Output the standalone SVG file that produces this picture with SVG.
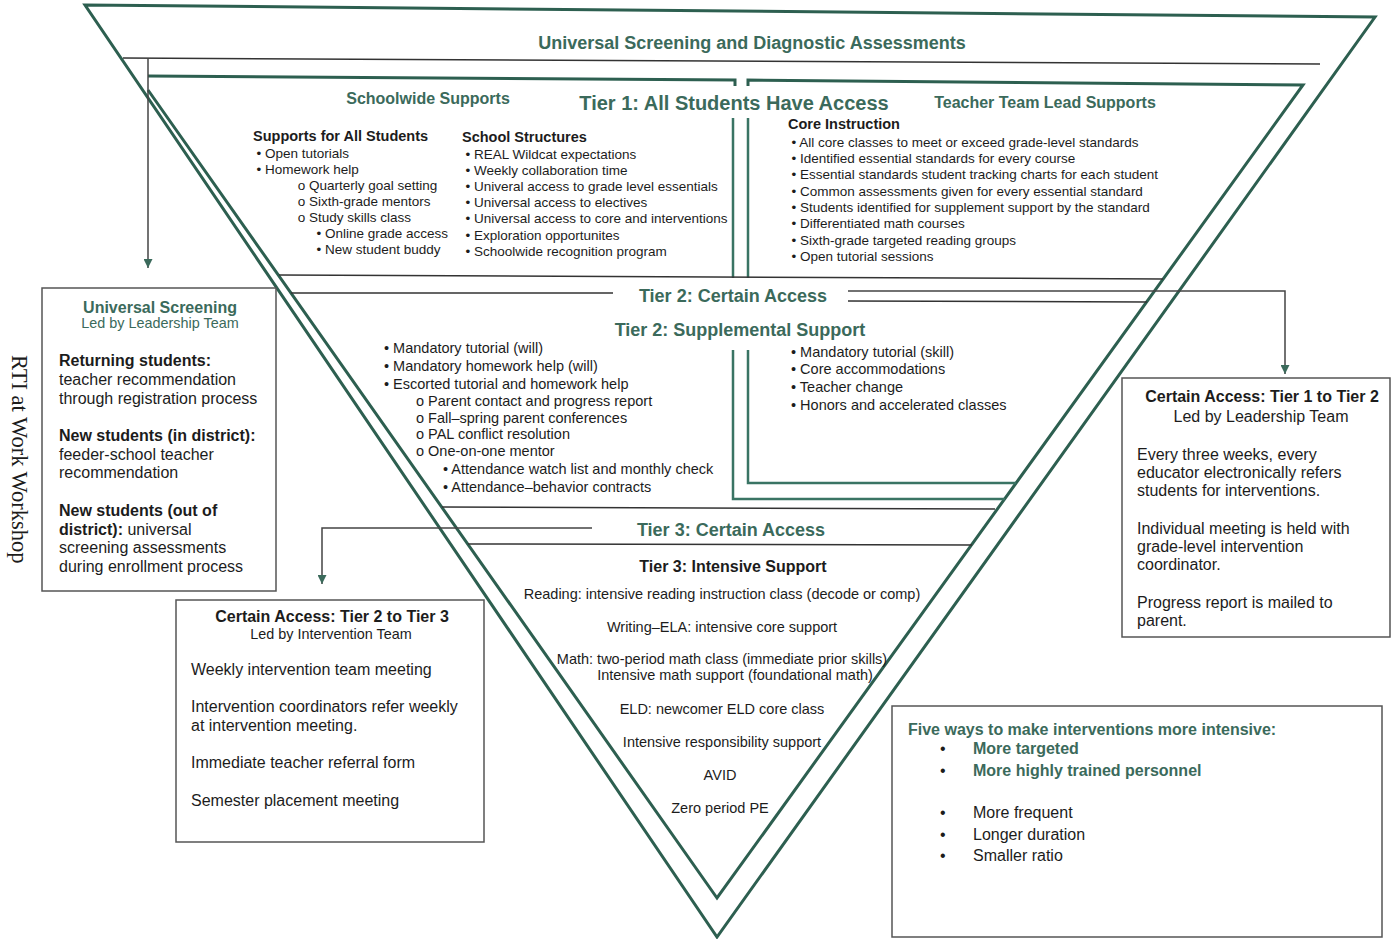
<svg xmlns="http://www.w3.org/2000/svg" width="1393" height="939" viewBox="0 0 1393 939">
<defs>
<style>
text{font-family:"Liberation Sans",Arial,Helvetica,sans-serif;fill:#1c1c1c}
.h{font-weight:bold;fill:#3b6a5b}
.g{fill:#3b6a5b}
.b{font-weight:bold}
.f13{font-size:13.5px}
.f14{font-size:14.5px}
.f16{font-size:16px}
.mid{text-anchor:middle}
.frame{fill:none;stroke:#2d5f50;stroke-width:3;stroke-linejoin:miter}
.gl{fill:none;stroke:#3a7464;stroke-width:2.5}
.tl{fill:none;stroke:#333;stroke-width:1.5}
.box{fill:#fff;stroke:#555;stroke-width:1.5}
.con{fill:none;stroke:#444;stroke-width:1.5}
</style>
<marker id="ah" viewBox="0 0 10 10" refX="10" refY="5" markerUnits="userSpaceOnUse" markerWidth="11" markerHeight="9" orient="auto">
<path d="M0,0 L10,5 L0,10 z" fill="#3b6a5b"/>
</marker>
</defs>
<rect width="1393" height="939" fill="#fff"/>

<g id="frame">
<path class="frame" d="M85,5 L1375,17 L717,937 Z"/>
<path class="frame" d="M735,86 L735,80 L148,76 M148,90 L717,898 L1303,85 L748,80 L748,86"/>
<path class="tl" d="M123,58 L1320,64"/>
<text class="h mid" x="752" y="49" font-size="18px">Universal Screening and Diagnostic Assessments</text>
</g>

<g id="tier1">
<path class="gl" d="M733,118 L733,278 M748,118 L748,278"/>
<path class="tl" d="M279,275 L1163,279"/>
<text class="h mid" x="428" y="104" font-size="16px">Schoolwide Supports</text>
<text class="h mid" x="734" y="110" font-size="20px">Tier 1: All Students Have Access</text>
<text class="h mid" x="1045" y="108" font-size="16px">Teacher Team Lead Supports</text>
<text class="b f14" x="253" y="141">Supports for All Students</text>
<text class="f13" x="256.5" y="158">• Open tutorials</text>
<text class="f13" x="256.5" y="174">• Homework help</text>
<text class="f13" x="297.7" y="190">o Quarterly goal setting</text>
<text class="f13" x="297.7" y="206">o Sixth-grade mentors</text>
<text class="f13" x="297.7" y="222">o Study skills class</text>
<text class="f13" x="316.5" y="238">• Online grade access</text>
<text class="f13" x="316.5" y="254">• New student buddy</text>
<text class="b f14" x="462" y="142">School Structures</text>
<text class="f13" x="465.5" y="159">• REAL Wildcat expectations</text>
<text class="f13" x="465.5" y="175">• Weekly collaboration time</text>
<text class="f13" x="465.5" y="191">• Univeral access to grade level essentials</text>
<text class="f13" x="465.5" y="207">• Universal access to electives</text>
<text class="f13" x="465.5" y="223">• Universal access to core and interventions</text>
<text class="f13" x="465.5" y="240">• Exploration opportunites</text>
<text class="f13" x="465.5" y="256">• Schoolwide recognition program</text>
<text class="b f14" x="788" y="129">Core Instruction</text>
<text class="f13" x="791.5" y="147">• All core classes to meet or exceed grade-level standards</text>
<text class="f13" x="791.5" y="163">• Identified essential standards for every course</text>
<text class="f13" x="791.5" y="179">• Essential standards student tracking charts for each student</text>
<text class="f13" x="791.5" y="196">• Common assessments given for every essential standard</text>
<text class="f13" x="791.5" y="212">• Students identified for supplement support by the standard</text>
<text class="f13" x="791.5" y="228">• Differentiated math courses</text>
<text class="f13" x="791.5" y="245">• Sixth-grade targeted reading groups</text>
<text class="f13" x="791.5" y="261">• Open tutorial sessions</text>
</g>

<g id="tier2">
<path class="tl" d="M291,293 L613,293 M848,301 L1147,302"/>
<path class="gl" d="M733,350 L733,499 L1005,499 M748,350 L748,483 L1016,483"/>
<path class="tl" d="M442,507 L995,509"/>
<text class="h mid" x="733" y="302" font-size="18px">Tier 2: Certain Access</text>
<text class="h mid" x="740" y="336" font-size="18px">Tier 2: Supplemental Support</text>
<text class="f14" x="384" y="353">• Mandatory tutorial (will)</text>
<text class="f14" x="384" y="371">• Mandatory homework help (will)</text>
<text class="f14" x="384" y="389">• Escorted tutorial and homework help</text>
<text class="f14" x="416" y="406">o Parent contact and progress report</text>
<text class="f14" x="416" y="423">o Fall–spring parent conferences</text>
<text class="f14" x="416" y="439">o PAL conflict resolution</text>
<text class="f14" x="416" y="456">o One-on-one mentor</text>
<text class="f14" x="443" y="474">• Attendance watch list and monthly check</text>
<text class="f14" x="443" y="492">• Attendance–behavior contracts</text>
<text class="f14" x="791" y="357">• Mandatory tutorial (skill)</text>
<text class="f14" x="791" y="374">• Core accommodations</text>
<text class="f14" x="791" y="392">• Teacher change</text>
<text class="f14" x="791" y="410">• Honors and accelerated classes</text>
</g>

<g id="tier3">
<path class="tl" d="M468,544 L972,545"/>
<text class="h mid" x="731" y="536" font-size="18px">Tier 3: Certain Access</text>
<text class="b mid" x="733" y="572" font-size="16px">Tier 3: Intensive Support</text>
<text class="f14 mid" x="722" y="599">Reading: intensive reading instruction class (decode or comp)</text>
<text class="f14 mid" x="722" y="632">Writing–ELA: intensive core support</text>
<text class="f14 mid" x="722" y="664">Math: two-period math class (immediate prior skills)</text>
<text class="f14 mid" x="735" y="680">Intensive math support (foundational math)</text>
<text class="f14 mid" x="722" y="714">ELD: newcomer ELD core class</text>
<text class="f14 mid" x="722" y="747">Intensive responsibility support</text>
<text class="f14 mid" x="720" y="780">AVID</text>
<text class="f14 mid" x="720" y="813">Zero period PE</text>
</g>

<g id="side-label">
<text transform="translate(12,355) rotate(90)" style="font-family:'Liberation Serif','Times New Roman',serif" font-size="22.5px">RTI at Work Workshop</text>
</g>

<g id="box-universal">
<rect class="box" x="42" y="288" width="234" height="303"/>
<text class="h mid f16" x="160" y="313">Universal Screening</text>
<text class="g mid" x="160" y="328" font-size="14.4px">Led by Leadership Team</text>
<text class="f16 b" x="59" y="366">Returning students:</text>
<text class="f16" x="59" y="385">teacher recommendation</text>
<text class="f16" x="59" y="404">through registration process</text>
<text class="f16 b" x="59" y="441">New students (in district):</text>
<text class="f16" x="59" y="460">feeder-school teacher</text>
<text class="f16" x="59" y="478">recommendation</text>
<text class="f16 b" x="59" y="516">New students (out of</text>
<text class="f16" x="59" y="535"><tspan class="b">district):</tspan> universal</text>
<text class="f16" x="59" y="553">screening assessments</text>
<text class="f16" x="59" y="572">during enrollment process</text>
</g>

<g id="box-tier1-2">
<rect class="box" x="1122" y="378" width="268" height="259"/>
<text class="f16 b mid" x="1262" y="402">Certain Access: Tier 1 to Tier 2</text>
<text class="f16 mid" x="1261" y="422">Led by Leadership Team</text>
<text class="f16" x="1137" y="460">Every three weeks, every</text>
<text class="f16" x="1137" y="478">educator electronically refers</text>
<text class="f16" x="1137" y="496">students for interventions.</text>
<text class="f16" x="1137" y="534">Individual meeting is held with</text>
<text class="f16" x="1137" y="552">grade-level intervention</text>
<text class="f16" x="1137" y="570">coordinator.</text>
<text class="f16" x="1137" y="608">Progress report is mailed to</text>
<text class="f16" x="1137" y="626">parent.</text>
</g>

<g id="box-tier2-3">
<rect class="box" x="176" y="600" width="308" height="242"/>
<text class="f16 b mid" x="332" y="622">Certain Access: Tier 2 to Tier 3</text>
<text class="mid" x="331" y="639" font-size="14.4px">Led by Intervention Team</text>
<text class="f16" x="191" y="675">Weekly intervention team meeting</text>
<text class="f16" x="191" y="712">Intervention coordinators refer weekly</text>
<text class="f16" x="191" y="731">at intervention meeting.</text>
<text class="f16" x="191" y="768">Immediate teacher referral form</text>
<text class="f16" x="191" y="806">Semester placement meeting</text>
</g>

<g id="box-intensive">
<rect class="box" x="892" y="706" width="490" height="231"/>
<text class="h f16" x="908" y="735">Five ways to make interventions more intensive:</text>
<text class="f16" x="940" y="754">•</text>
<text class="h f16" x="973" y="754">More targeted</text>
<text class="f16" x="940" y="776">•</text>
<text class="h f16" x="973" y="776">More highly trained personnel</text>
<text class="f16" x="940" y="818">•</text>
<text class="f16" x="973" y="818">More frequent</text>
<text class="f16" x="940" y="840">•</text>
<text class="f16" x="973" y="840">Longer duration</text>
<text class="f16" x="940" y="861">•</text>
<text class="f16" x="973" y="861">Smaller ratio</text>
</g>

<g id="connectors">
<path class="con" d="M148,58 L148,268" marker-end="url(#ah)"/>
<path class="con" d="M848,291 L1285,291 L1285,374" marker-end="url(#ah)"/>
<path class="con" d="M592,528 L322,528 L322,584" marker-end="url(#ah)"/>
</g>
</svg>
